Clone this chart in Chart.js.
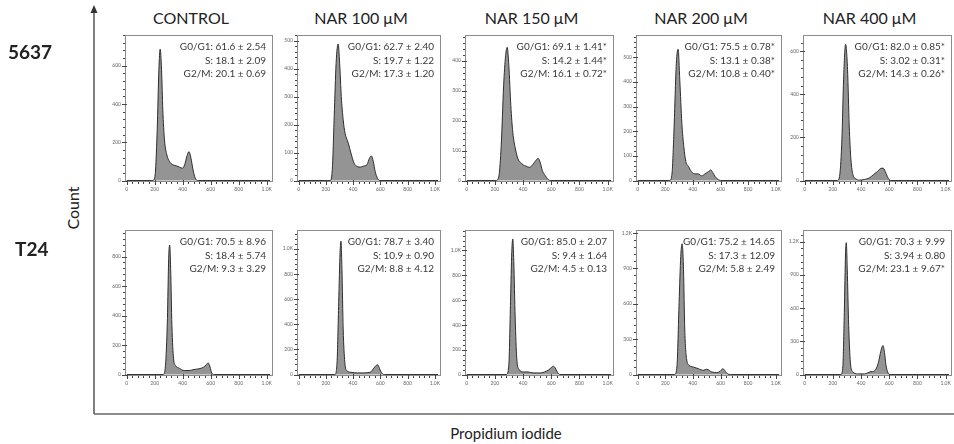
<!DOCTYPE html>
<html>
<head>
<meta charset="utf-8">
<script src="https://cdn.jsdelivr.net/npm/chart.js@4.4.1/dist/chart.umd.min.js"></script>
<style>
  html, body { margin: 0; padding: 0; background: #fff; overflow: hidden; }
  #fig { position: relative; width: 954px; height: 444px; font-family: Lato, sans-serif; color: #222; }
  .panel { position: absolute; }
  .title { position: absolute; top: 8px; font-size: 16px; line-height: 20px; transform: translateX(-50%); white-space: nowrap; }
  .rowlab { position: absolute; font-weight: bold; font-size: 19px; line-height: 22px; }
  .stats { position: absolute; width: 200px; font-size: 10px; line-height: 13.5px; color: #3a3a3a; text-align: right; white-space: nowrap; }
  .axlab { position: absolute; font-size: 15px; white-space: nowrap; }
</style>
</head>
<body>
<div id="fig">
  <svg width="954" height="444" style="position:absolute;left:0;top:0">
    <line x1="94" y1="12" x2="94" y2="414" stroke="#555" stroke-width="1.5"/>
    <line x1="94" y1="414" x2="954" y2="414" stroke="#666" stroke-width="1.5"/>
    <polygon points="94,5 90.5,13 97.5,13" fill="#333"/>
  </svg>
  <div class="axlab" style="left:72px;top:208px;transform:translate(-50%,-50%) rotate(-90deg);font-size:16px">Count</div>
  <div class="axlab" style="left:506px;top:433px;transform:translate(-50%,-50%)">Propidium iodide</div>
</div>
<script>
// column / row headings
const columns = ['CONTROL', 'NAR 100 μM', 'NAR 150 μM', 'NAR 200 μM', 'NAR 400 μM'];
const cellLines = ['5637', 'T24'];
const xTicks = [0, 200, 400, 600, 800, 1000];

// histograms: [PI channel, count]
const c5637Control = [[0,0],[180,0],[194,3],[206,55],[218,265],[230,578],[239,686],[249,578],[258,369],[270,212],[287,134],[306,99],[330,82],[354,77],[378,70],[397,64],[414,82],[431,129],[445,151],[459,117],[474,56],[490,12],[510,0],[1024,0]];
const c5637Nar100 = [[0,0],[231,0],[247,38],[261,228],[275,419],[290,488],[301,419],[313,300],[327,217],[341,169],[365,133],[384,98],[407,62],[431,50],[454,48],[478,52],[501,56],[520,80],[534,88],[548,68],[562,32],[579,8],[595,0],[1024,0]];
const c5637Nar150 = [[0,0],[210,0],[229,17],[245,117],[262,316],[276,416],[287,444],[299,383],[313,250],[327,161],[346,105],[364,72],[381,61],[402,52],[421,48],[444,44],[467,52],[491,67],[507,74],[521,61],[537,33],[556,17],[579,3],[596,0],[1024,0]];
const c5637Nar200 = [[0,0],[232,0],[249,30],[263,205],[280,475],[293,532],[305,408],[320,232],[334,138],[349,77],[368,57],[390,36],[415,27],[439,27],[463,19],[488,27],[512,36],[529,43],[544,32],[561,16],[585,3],[610,0],[1024,0]];
const c5637Nar400 = [[0,0],[233,0],[249,28],[264,191],[276,470],[290,632],[304,516],[316,253],[328,98],[342,28],[363,8],[387,2],[423,5],[458,12],[489,28],[518,43],[542,57],[558,57],[577,33],[594,9],[613,0],[1024,0]];
const cT24Control = [[0,0],[261,0],[277,61],[291,379],[300,788],[307,878],[314,720],[323,334],[335,107],[349,61],[376,43],[411,27],[446,27],[480,34],[515,39],[550,50],[568,66],[582,79],[596,50],[607,11],[624,0],[1024,0]];
const cT24Nar100 = [[0,0],[266,0],[282,98],[294,573],[304,969],[311,1061],[318,837],[327,362],[339,98],[353,32],[384,18],[431,13],[478,13],[525,18],[548,45],[567,71],[581,77],[595,45],[609,13],[631,0],[1024,0]];
const cT24Nar150 = [[0,0],[282,0],[299,80],[311,590],[320,992],[327,1093],[334,911],[344,456],[355,134],[372,40],[400,21],[435,21],[471,13],[518,13],[565,27],[593,48],[612,67],[628,54],[642,21],[659,0],[1024,0]];
const cT24Nar200 = [[0,0],[268,0],[285,78],[300,610],[312,1002],[322,1109],[332,890],[341,386],[354,134],[373,78],[402,64],[439,50],[476,36],[500,45],[537,22],[573,17],[598,28],[617,50],[634,28],[651,6],[671,0],[1024,0]];
const cT24Nar400 = [[0,0],[257,0],[271,81],[281,561],[290,1101],[295,1191],[302,951],[312,441],[324,111],[340,27],[376,6],[424,6],[471,27],[490,30],[510,60],[525,120],[540,210],[555,262],[566,200],[576,90],[588,25],[602,0],[1024,0]];

// y axis ranges per panel
const yMax5637 = [760, 520, 485, 590, 675];
const yStep5637 = [200, 100, 100, 100, 200];
const yMaxT24 = [980, 1150, 1165, 1225, 1305];
const yStepT24 = [200, 200, 200, 300, 300];

// phase percentages (mean ± SD)
const stats5637 = [
  ['G0/G1: 61.6 ± 2.54', 'S: 18.1 ± 2.09', 'G2/M: 20.1 ± 0.69'],
  ['G0/G1: 62.7 ± 2.40', 'S: 19.7 ± 1.22', 'G2/M: 17.3 ± 1.20'],
  ['G0/G1: 69.1 ± 1.41*', 'S: 14.2 ± 1.44*', 'G2/M: 16.1 ± 0.72*'],
  ['G0/G1: 75.5 ± 0.78*', 'S: 13.1 ± 0.38*', 'G2/M: 10.8 ± 0.40*'],
  ['G0/G1: 82.0 ± 0.85*', 'S: 3.02 ± 0.31*', 'G2/M: 14.3 ± 0.26*']
];
const statsT24 = [
  ['G0/G1: 70.5 ± 8.96', 'S: 18.4 ± 5.74', 'G2/M: 9.3 ± 3.29'],
  ['G0/G1: 78.7 ± 3.40', 'S: 10.9 ± 0.90', 'G2/M: 8.8 ± 4.12'],
  ['G0/G1: 85.0 ± 2.07', 'S: 9.4 ± 1.64', 'G2/M: 4.5 ± 0.13'],
  ['G0/G1: 75.2 ± 14.65', 'S: 17.3 ± 12.09', 'G2/M: 5.8 ± 2.49'],
  ['G0/G1: 70.3 ± 9.99', 'S: 3.94 ± 0.80', 'G2/M: 23.1 ± 9.67*']
];

const hist5637 = [c5637Control, c5637Nar100, c5637Nar150, c5637Nar200, c5637Nar400];
const histT24 = [cT24Control, cT24Nar100, cT24Nar150, cT24Nar200, cT24Nar400];

// layout (pixel boxes of each plot frame)
const colLeft = [125, 297, 465, 636, 803];
const colRight = [273, 441, 614, 782, 952];
const rowTop = [35, 230];
const rowBottom = [182, 376];
const AXIS_W = 18, AXIS_H = 12, PAD_R = 8;

const fig = document.getElementById('fig');

function addDiv(cls, text, style) {
  const d = document.createElement('div');
  d.className = cls;
  d.textContent = text;
  Object.assign(d.style, style);
  fig.appendChild(d);
  return d;
}

const fmt = v => v >= 1000 ? (v / 1000).toFixed(1) + 'K' : String(v);

// box + major/minor tick marks, like the FlowJo export
const frame = {
  id: 'frame',
  afterDraw(chart) {
    const { ctx, chartArea: a, scales: { x, y } } = chart;
    const step = chart.options.plugins.frame.step;
    const top = Math.round(y.max);
    ctx.save();
    ctx.strokeStyle = '#8c8c8c';
    ctx.lineWidth = 1;
    ctx.strokeRect(Math.round(a.left) + 0.5, Math.round(a.top) + 0.5, Math.round(a.right - a.left) - 1, Math.round(a.bottom - a.top) - 1);
    ctx.strokeStyle = '#444';
    ctx.beginPath();
    for (let v = 0; v <= 1000; v += 40) {
      const px = Math.round(x.getPixelForValue(v)) + 0.5;
      const major = v % 200 === 0;
      ctx.moveTo(px, a.bottom - (major ? 2 : 0));
      ctx.lineTo(px, a.bottom + (major ? 3 : 2));
    }
    for (let v = 0; v <= top; v += step / 5) {
      const py = Math.round(y.getPixelForValue(v)) + 0.5;
      const major = Math.abs(v / step - Math.round(v / step)) < 1e-6;
      ctx.moveTo(a.left + (major ? 2 : 0), py);
      ctx.lineTo(a.left - (major ? 3 : 2), py);
    }
    ctx.stroke();
    ctx.restore();
  }
};

function makePanel(row, col, pts, yMax, yStep, stats) {
  const L = colLeft[col], R = colRight[col], T = rowTop[row], B = rowBottom[row];
  const box = document.createElement('div');
  box.className = 'panel';
  Object.assign(box.style, {
    left: (L - AXIS_W) + 'px', top: T + 'px',
    width: (R - L + AXIS_W + PAD_R) + 'px', height: (B - T + AXIS_H) + 'px'
  });
  const cv = document.createElement('canvas');
  box.appendChild(cv);
  fig.appendChild(box);

  const yTicks = [];
  for (let v = 0; v <= yMax; v += yStep) yTicks.push(v);

  new Chart(cv, {
    type: 'line',
    data: {
      datasets: [{
        data: pts.map(p => ({ x: p[0], y: p[1] })),
        fill: 'origin',
        backgroundColor: '#949494',
        borderColor: '#2e2e2e',
        borderWidth: 1,
        pointRadius: 0,
        cubicInterpolationMode: 'monotone'
      }]
    },
    options: {
      responsive: true,
      maintainAspectRatio: false,
      animation: false,
      layout: { padding: { left: 0, top: 0, right: PAD_R, bottom: 0 } },
      plugins: { legend: { display: false }, tooltip: { enabled: false }, frame: { step: yStep } },
      scales: {
        x: {
          type: 'linear', min: -12, max: 1045,
          grid: { display: false, drawTicks: false },
          border: { display: false },
          afterBuildTicks: s => { s.ticks = xTicks.map(v => ({ value: v })); },
          ticks: { font: { size: 5, family: 'Lato' }, color: '#666', padding: 4, maxRotation: 0, autoSkip: false, callback: fmt },
          afterFit: s => { s.height = AXIS_H; s.paddingLeft = 0; s.paddingRight = 0; }
        },
        y: {
          type: 'linear', min: -yMax * 0.01, max: yMax,
          grid: { display: false, drawTicks: false },
          border: { display: false },
          afterBuildTicks: s => { s.ticks = yTicks.map(v => ({ value: v })); },
          ticks: { font: { size: 5, family: 'Lato' }, color: '#666', padding: 4, autoSkip: false, callback: fmt },
          afterFit: s => { s.width = AXIS_W; s.paddingTop = 0; s.paddingBottom = 0; }
        }
      }
    },
    plugins: [frame]
  });

  const st = addDiv('stats', '', { left: (R - 7 - 200) + 'px', top: (T + 5) + 'px' });
  st.innerHTML = stats.join('<br>');
}

columns.forEach((name, i) => {
  addDiv('title', name, { left: ((colLeft[i] + colRight[i]) / 2 - 8) + 'px' });
  makePanel(0, i, hist5637[i], yMax5637[i], yStep5637[i], stats5637[i]);
  makePanel(1, i, histT24[i], yMaxT24[i], yStepT24[i], statsT24[i]);
});

addDiv('rowlab', cellLines[0], { left: '8px', top: '41px' });
addDiv('rowlab', cellLines[1], { left: '15px', top: '238px' });
</script>
</body>
</html>
